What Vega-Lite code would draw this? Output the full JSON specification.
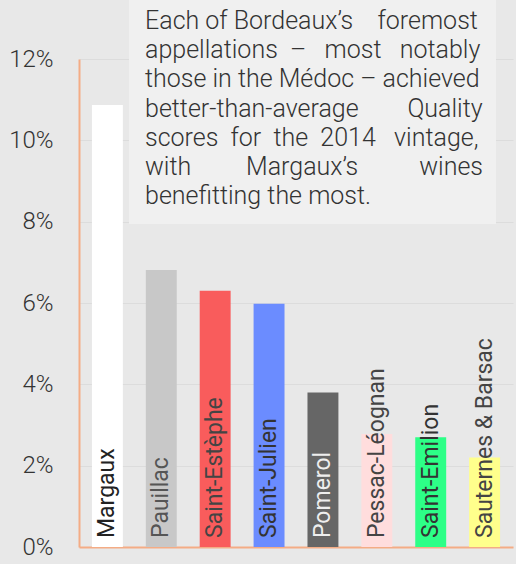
{
  "$schema": "https://vega.github.io/schema/vega-lite/v6.json",
  "width": 434,
  "height": 488,
  "autosize": {"type": "none"},
  "padding": {"left": 79, "top": 59, "right": 3, "bottom": 17},
  "background": "#e8e8e8",
  "config": {"view": {"stroke": null}, "font": "Roboto"},
  "datasets": {
    "bars": [
      {"name": "Margaux", "value": 0.1087},
      {"name": "Pauillac", "value": 0.0681},
      {"name": "Saint-Estèphe", "value": 0.0630},
      {"name": "Saint-Julien", "value": 0.0598},
      {"name": "Pomerol", "value": 0.0380},
      {"name": "Pessac-Léognan", "value": 0.0278},
      {"name": "Saint-Emilion", "value": 0.0270},
      {"name": "Sauternes & Barsac", "value": 0.0220}
    ],
    "note": [
      {"lines": [
        "Each of Bordeaux’s \u00a0\u00a0\u00a0foremost",
        "appellations \u00a0– \u00a0\u00a0most \u00a0\u00a0notably",
        "those in the Médoc – achieved",
        "better-than-average \u00a0\u00a0\u00a0\u00a0\u00a0\u00a0\u00a0Quality",
        "scores \u00a0for \u00a0the \u00a02014 \u00a0\u00a0vintage,",
        "with \u00a0\u00a0\u00a0\u00a0\u00a0\u00a0\u00a0\u00a0Margaux’s \u00a0\u00a0\u00a0\u00a0\u00a0\u00a0\u00a0\u00a0\u00a0wines",
        "benefitting the most."
      ]}
    ]
  },
  "layer": [
    {
      "data": {"name": "note"},
      "layer": [
        {
          "mark": {"type": "rect", "color": "#f0f0f0"},
          "encoding": {
            "x": {"datum": 0.1152, "type": "quantitative", "scale": {"domain": [0, 1]}, "axis": null},
            "x2": {"datum": 0.9608},
            "y": {"datum": 0.0794, "type": "quantitative", "scale": {"domain": [0, 0.12]}, "title": null},
            "y2": {"datum": 0.1345}
          }
        },
        {
          "mark": {"type": "text", "align": "left", "baseline": "alphabetic", "fontSize": 25, "lineHeight": 29.2, "color": "#333333", "font": "Roboto", "fontWeight": 300},
          "encoding": {
            "x": {"datum": 0.1521, "type": "quantitative", "scale": {"domain": [0, 1]}, "axis": null},
            "y": {"datum": 0.1274, "type": "quantitative", "scale": {"domain": [0, 0.12]}, "title": null},
            "text": {"field": "lines", "type": "nominal"}
          }
        }
      ]
    },
    {
      "data": {"name": "bars"},
      "layer": [
        {
          "mark": {"type": "bar"},
          "encoding": {
            "x": {
              "field": "name", "type": "nominal", "sort": null,
              "scale": {"paddingInner": 0.426, "paddingOuter": 0.24},
              "axis": {"labels": false, "ticks": false, "title": null, "grid": false, "domainColor": "#f4ac85", "domainWidth": 2}
            },
            "y": {
              "field": "value", "type": "quantitative",
              "scale": {"domain": [0, 0.12]},
              "axis": {
                "values": [0, 0.02, 0.04, 0.06, 0.08, 0.1, 0.12],
                "format": ".0%", "title": null, "ticks": false,
                "labelFontSize": 24, "labelColor": "#333333", "labelFont": "Roboto", "labelFontWeight": 300,
                "labelPadding": 26, "domainColor": "#f4ac85", "domainWidth": 2,
                "grid": true, "gridColor": "#dcdcdc", "gridWidth": 1
              }
            },
            "color": {
              "field": "name", "type": "nominal", "legend": null,
              "scale": {
                "domain": ["Margaux", "Pauillac", "Saint-Estèphe", "Saint-Julien", "Pomerol", "Pessac-Léognan", "Saint-Emilion", "Sauternes & Barsac"],
                "range": ["#ffffff", "#c8c8c8", "#f95c5c", "#6b8cff", "#666666", "#ffdddd", "#2dff87", "#ffff8c"]
              }
            }
          }
        },
        {
          "mark": {"type": "text", "angle": 270, "align": "left", "baseline": "middle", "dx": 9, "fontSize": 23, "font": "Roboto", "fontWeight": 400},
          "encoding": {
            "x": {"field": "name", "type": "nominal", "sort": null},
            "y": {"datum": 0, "type": "quantitative", "title": null},
            "text": {"field": "name", "type": "nominal"},
            "color": {
              "field": "name", "type": "nominal", "legend": null,
              "scale": {
                "domain": ["Margaux", "Pauillac", "Saint-Estèphe", "Saint-Julien", "Pomerol", "Pessac-Léognan", "Saint-Emilion", "Sauternes & Barsac"],
                "range": ["#222222", "#555555", "#444444", "#333333", "#eeeeee", "#444444", "#333333", "#444444"]
              }
            }
          }
        }
      ],
      "resolve": {"scale": {"color": "independent"}}
    }
  ],
  "resolve": {"scale": {"x": "independent"}, "axis": {"x": "independent"}}
}
